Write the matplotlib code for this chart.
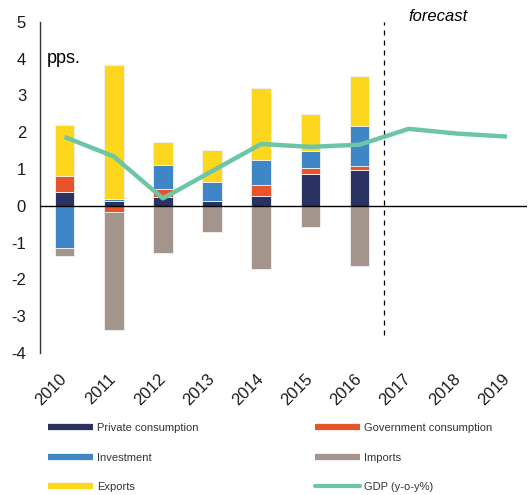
import numpy as np
import matplotlib
matplotlib.use("Agg")
import matplotlib.pyplot as plt
from matplotlib.lines import Line2D

plt.rcParams["font.family"] = ["Liberation Sans", "DejaVu Sans"]
plt.rcParams["axes.unicode_minus"] = False

years = ["2010", "2011", "2012", "2013", "2014", "2015", "2016", "2017", "2018", "2019"]
bar_years = years[:7]

private = [0.37, 0.13, 0.24, 0.13, 0.27, 0.87, 0.97]
government = [0.45, -0.17, 0.21, 0.0, 0.30, 0.16, 0.11]
investment = [-1.15, 0.06, 0.65, 0.51, 0.66, 0.47, 1.08]
imports = [-0.22, -3.20, -1.28, -0.72, -1.72, -0.59, -1.64]
exports = [1.38, 3.63, 0.64, 0.88, 1.97, 1.00, 1.38]
gdp = [1.87, 1.34, 0.20, 0.94, 1.68, 1.60, 1.66, 2.09, 1.96, 1.88]

forecast_start = 6.5

components = [
    ("Private consumption", private, "#2A3264"),
    ("Government consumption", government, "#E8532A"),
    ("Investment", investment, "#3E86C6"),
    ("Imports", imports, "#A3958C"),
    ("Exports", exports, "#FDD61E"),
]
gdp_color = "#6CC6A6"

fig = plt.figure(figsize=(5.29, 4.95), dpi=100)
ax = fig.add_axes([0.0756, 0.287, 0.92, 0.669])

x = np.arange(len(bar_years))
pos_base = np.zeros(len(bar_years))
neg_base = np.zeros(len(bar_years))
handles = {}
for name, vals, col in components:
    vals = np.array(vals)
    bottom = np.where(vals >= 0, pos_base, neg_base)
    ax.bar(x, vals, width=0.4, bottom=bottom, color=col,
           edgecolor="#f2f2f2", linewidth=0.6, zorder=2)
    pos_base += np.where(vals >= 0, vals, 0)
    neg_base += np.where(vals < 0, vals, 0)
    handles[name] = Line2D([], [], color=col, lw=4.5, solid_capstyle="butt")

ax.plot(np.arange(len(years)), gdp, color=gdp_color, lw=3.2, zorder=3,
        solid_capstyle="butt")
handles["GDP (y-o-y%)"] = Line2D([], [], color=gdp_color, lw=3, solid_capstyle="round")

ax.axhline(0, color="black", lw=1, zorder=4)
ax.plot([forecast_start, forecast_start], [-3.5, 5.0], color="black",
        lw=0.9, ls=(0, (4, 4)), zorder=1, clip_on=False)

ax.set_xlim(-0.5, 9.4)
ax.set_ylim(-4, 5)
ax.set_yticks(range(-4, 6))
ax.set_xticks(np.arange(len(years)))
ax.set_xticklabels(years, rotation=45, ha="right", va="center",
                   rotation_mode="anchor")
ax.tick_params(axis="both", length=0, labelsize=12, colors="#1a1a1a")
ax.tick_params(axis="y", pad=10)
ax.tick_params(axis="x", pad=17)

for s in ["top", "right", "bottom"]:
    ax.spines[s].set_visible(False)
ax.spines["left"].set_color("#333333")
ax.spines["left"].set_linewidth(1)

ax.text(-0.36, 4.0, "pps.", fontsize=13, va="center", ha="left")
ax.text(7.6, 5.14, "forecast", fontsize=12, style="italic", ha="center",
        va="center", clip_on=False)

order = ["Private consumption", "Investment", "Exports",
         "Government consumption", "Imports", "GDP (y-o-y%)"]
fig.legend([handles[k] for k in order], order, loc="upper left",
           bbox_to_anchor=(0.091, 0.145), ncol=2, frameon=False, fontsize=8,
           handlelength=4, handletextpad=0.4, columnspacing=10.5,
           labelspacing=1.75, borderaxespad=0, borderpad=0,
           labelcolor="#333333")

fig.savefig("out.png", dpi=100, facecolor="white")
